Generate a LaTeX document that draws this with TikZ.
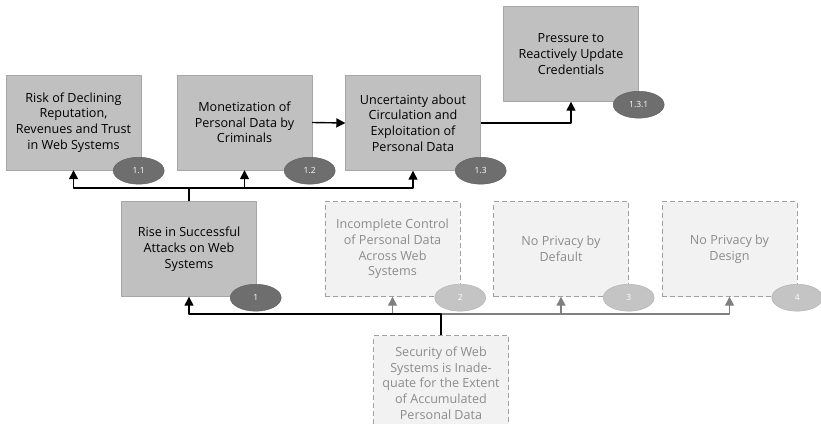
\documentclass[tikz,border=0pt]{standalone}
\usepackage{fontspec}
\setmainfont{Open Sans}
\usetikzlibrary{arrows.meta,shapes.geometric}
\definecolor{boxfill}{HTML}{C0C0C0}
\definecolor{boxline}{HTML}{A6A6A6}
\definecolor{ghostfill}{HTML}{F2F2F2}
\definecolor{ghostline}{HTML}{A0A0A0}
\definecolor{ghosttext}{HTML}{8C8C8C}
\definecolor{tagdark}{HTML}{6E6E6E}
\definecolor{taglight}{HTML}{C4C4C4}
\definecolor{linkgray}{HTML}{808080}
\tikzset{
  effect/.style={draw=boxline,fill=boxfill,minimum width=135pt,minimum height=95pt,
    inner sep=0pt,align=center,font=\fontsize{12.6}{15.7}\selectfont},
  ghost/.style={effect,draw=ghostline,fill=ghostfill,dashed,dash pattern=on 5pt off 3pt,text=ghosttext},
  tag/.style={ellipse,draw=tagdark!85!black,fill=tagdark,minimum width=51pt,minimum height=27pt,
    inner sep=0pt,text=white,font=\fontsize{8.5}{9}\selectfont},
  ghosttag/.style={tag,draw=taglight!90!black,fill=taglight},
  link/.style={line width=1.4pt,-{Triangle[length=9pt,width=9pt]}},
  ghostlink/.style={link,draw=linkgray}
}
\begin{document}
\begin{tikzpicture}[x=1pt,y=-1pt,line join=round]
  \useasboundingbox (0,0) rectangle (821,423);
  % top row
  \node[effect] (e11)  at (73.5,122.5) {Risk of Declining\\Reputation,\\Revenues and Trust\\in Web Systems};
  \node[effect] (e12)  at (244.5,122.5) {Monetization of\\Personal Data by\\Criminals};
  \node[effect] (e13)  at (413,123) {Uncertainty about\\Circulation and\\Exploitation of\\Personal Data};
  \node[effect] (e131) at (571,54) {Pressure to\\Reactively Update\\Credentials};
  % middle row
  \node[effect] (e1) at (189,249) {Rise in Successful\\Attacks on Web\\Systems};
  \node[ghost]  (e2) at (392.5,249) {Incomplete Control\\of Personal Data\\Across Web\\Systems};
  \node[ghost]  (e3) at (561,249) {No Privacy by\\Default};
  \node[ghost]  (e4) at (729.5,249) {No Privacy by\\Design};
  % root
  \node[ghost]  (e0) at (441,383) {Security of Web\\Systems is Inade-\\quate for the Extent\\of Accumulated\\Personal Data};
  % number tags
  \node[tag] (t11)  at ([shift={(-2.5,0.5)}]e11.south east) {1.1};
  \node[tag] (t12)  at ([shift={(-2.5,0.5)}]e12.south east) {1.2};
  \node[tag] (t13)  at ([shift={(0,0)}]e13.south east) {1.3};
  \node[tag] (t131) at ([shift={(0,3)}]e131.south east) {1.3.1};
  \node[tag] (t1)   at ([shift={(-1,1)}]e1.south east) {1};
  \node[ghosttag] (t2) at ([shift={(0,1)}]e2.south east) {2};
  \node[ghosttag] (t3) at ([shift={(0,1)}]e3.south east) {3};
  \node[ghosttag] (t4) at ([shift={(0,1)}]e4.south east) {4};
  % links from the root
  \coordinate (r0) at (441,314);
  \draw[ghostlink] (e0.north) -- (r0) -| (e2.south);
  \draw[ghostlink] (r0) -| (e3.south);
  \draw[ghostlink] (r0) -| (e4.south);
  \draw[link] (e0.north) -- (r0) -| (e1.south);
  % links from rise in attacks
  \coordinate (r1) at (189,188);
  \draw[link] (e1.north) -- (r1) -| (e11.south);
  \draw[link] (r1) -| (e12.south);
  \draw[link] (r1) -| (e13.south);
  \draw[link] (e12.east) -- (e13.west);
  \draw[link] (e13.east) -| (e131.south);
\end{tikzpicture}
\end{document}
